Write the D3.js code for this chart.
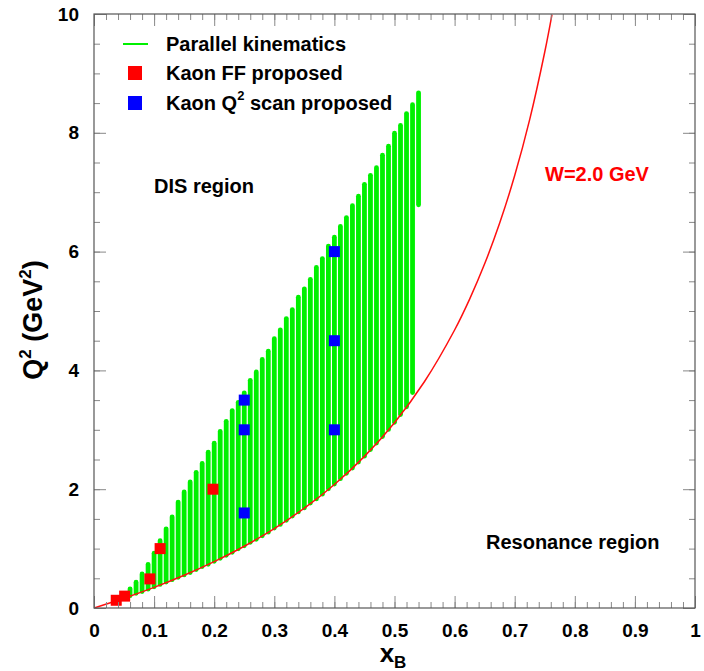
<!DOCTYPE html>
<html>
  <head>
    <meta charset="utf-8">
    <title>Kaon kinematics</title>
    <script src="https://cdn.jsdelivr.net/npm/d3@7"></script>
    <style>
      body { margin: 0; background: #fff; }
      svg text { font-family: "Liberation Sans", Arial, Helvetica, sans-serif; font-weight: bold; }
    </style>
  </head>

  <body>
    <svg id="chart" width="704" height="671"></svg>

    <script>
      // parallel kinematics columns: xB, top Q2, bottom Q2
      const colX = [0.06, 0.07, 0.08, 0.09, 0.10, 0.11, 0.12, 0.13, 0.14, 0.15, 0.16, 0.17, 0.18,
        0.19, 0.20, 0.21, 0.22, 0.23, 0.24, 0.25, 0.26, 0.27, 0.28, 0.29, 0.30, 0.31, 0.32,
        0.33, 0.34, 0.35, 0.36, 0.37, 0.38, 0.39, 0.40, 0.41, 0.42, 0.43, 0.44, 0.45, 0.46,
        0.47, 0.48, 0.49, 0.50, 0.51, 0.52, 0.53, 0.54];
      const colTop = [0.33, 0.44, 0.58, 0.74, 0.93, 1.14, 1.34, 1.54, 1.79, 1.96, 2.13, 2.29, 2.44,
        2.63, 2.78, 2.98, 3.15, 3.33, 3.47, 3.63, 3.84, 3.98, 4.19, 4.33, 4.54, 4.69, 4.88,
        5.03, 5.24, 5.38, 5.54, 5.74, 5.89, 6.10, 6.25, 6.43, 6.58, 6.78, 6.94, 7.14, 7.29,
        7.42, 7.63, 7.78, 8.00, 8.13, 8.33, 8.48, 8.68];
      const colBottom = [0.20, 0.24, 0.27, 0.31, 0.35, 0.39, 0.43, 0.47, 0.51, 0.55, 0.59, 0.64, 0.69,
        0.73, 0.78, 0.83, 0.88, 0.93, 0.99, 1.04, 1.10, 1.15, 1.21, 1.27, 1.34, 1.40, 1.47,
        1.54, 1.61, 1.68, 1.76, 1.83, 1.91, 2.00, 2.08, 2.17, 2.26, 2.35, 2.45, 2.55, 2.66,
        2.77, 2.88, 3.00, 3.12, 3.25, 3.38, 3.62, 6.78];

      // proposed points
      const ffX = [0.037, 0.051, 0.093, 0.11, 0.198];
      const ffQ2 = [0.13, 0.20, 0.49, 1.0, 2.0];
      const scanX = [0.25, 0.25, 0.25, 0.40, 0.40, 0.40];
      const scanQ2 = [1.6, 3.0, 3.5, 3.0, 4.5, 6.0];

      // W = 2.0 GeV line
      const wX = [0, 0.05, 0.10, 0.15, 0.20, 0.25, 0.30, 0.35, 0.40, 0.45, 0.50, 0.55, 0.60,
        0.625, 0.65, 0.675, 0.70, 0.725, 0.75, 0.762];
      const wQ2 = [0, 0.164, 0.347, 0.551, 0.78, 1.04, 1.337, 1.68, 2.08, 2.553, 3.12, 3.813, 4.68,
        5.2, 5.794, 6.48, 7.28, 8.225, 9.36, 9.99];

      // axis ticks
      const xMajor = [0, 0.1, 0.2, 0.3, 0.4, 0.5, 0.6, 0.7, 0.8, 0.9, 1];
      const xLabels = ["0", "0.1", "0.2", "0.3", "0.4", "0.5", "0.6", "0.7", "0.8", "0.9", "1"];
      const yMajor = [0, 2, 4, 6, 8, 10];
      const yLabels = ["0", "2", "4", "6", "8", "10"];

      const svg = d3.select("#chart");
      const mLeft = 94, mRight = 695, mTop = 14, mBottom = 608;

      const x = d3.scaleLinear().domain([0, 1]).range([mLeft, mRight]);
      const y = d3.scaleLinear().domain([0, 10]).range([mBottom, mTop]);

      svg.append("clipPath").attr("id", "clip")
        .append("rect")
          .attr("x", mLeft).attr("y", mTop)
          .attr("width", mRight - mLeft).attr("height", mBottom - mTop);

      const plot = svg.append("g").attr("clip-path", "url(#clip)");

      // green columns
      plot.selectAll(".col")
        .data(colX)
      .enter().append("rect")
        .classed("col", true)
        .attr("x", function(d) { return x(d) - 2.4; })
        .attr("width", 4.8)
        .attr("y", function(d, i) { return y(colTop[i]) - 2; })
        .attr("height", function(d, i) { return y(colBottom[i]) - y(colTop[i]) + 4; })
        .attr("rx", 2.4)
        .attr("fill", "#00f000");

      // W=2 curve
      const line = d3.line()
        .x(function(d, i) { return x(wX[i]); })
        .y(function(d, i) { return y(wQ2[i]); })
        .curve(d3.curveCatmullRom);
      plot.append("path")
        .datum(wX)
        .attr("d", line)
        .attr("fill", "none")
        .attr("stroke", "#ff1010")
        .attr("stroke-width", 1.5);

      // squares
      const sq = 11;
      plot.selectAll(".ff")
        .data(ffX)
      .enter().append("rect")
        .attr("x", function(d) { return x(d) - sq / 2; })
        .attr("y", function(d, i) { return y(ffQ2[i]) - sq / 2; })
        .attr("width", sq).attr("height", sq)
        .attr("fill", "#ff0000");
      plot.selectAll(".scan")
        .data(scanX)
      .enter().append("rect")
        .attr("x", function(d) { return x(d) - sq / 2; })
        .attr("y", function(d, i) { return y(scanQ2[i]) - sq / 2; })
        .attr("width", sq).attr("height", sq)
        .attr("fill", "#0000ff");

      // axes (ticks inward on all four sides)
      function tickStyle(g) {
        g.select(".domain").remove();
        g.selectAll("line").attr("stroke", "#888");
        g.selectAll("text").attr("font-size", 19).attr("fill", "#000");
      }
      const xMinor = d3.range(0, 1.0001, 0.02);
      const yMinor = d3.range(0, 10.0001, 0.5);

      svg.append("g").attr("transform", "translate(0," + mBottom + ")")
        .call(d3.axisBottom(x).tickValues(xMinor).tickSize(-6).tickFormat(""))
        .call(tickStyle);
      svg.append("g").attr("transform", "translate(0," + mBottom + ")")
        .call(d3.axisBottom(x).tickValues(xMajor).tickSize(-12).tickSizeOuter(0).tickPadding(16)
          .tickFormat(function(d, i) { return xLabels[i]; }))
        .call(tickStyle);
      svg.append("g").attr("transform", "translate(0," + mTop + ")")
        .call(d3.axisTop(x).tickValues(xMinor).tickSize(-6).tickFormat(""))
        .call(tickStyle);
      svg.append("g").attr("transform", "translate(0," + mTop + ")")
        .call(d3.axisTop(x).tickValues(xMajor).tickSize(-12).tickFormat(""))
        .call(tickStyle);

      svg.append("g").attr("transform", "translate(" + mLeft + ",0)")
        .call(d3.axisLeft(y).tickValues(yMinor).tickSize(-6).tickFormat(""))
        .call(tickStyle);
      svg.append("g").attr("transform", "translate(" + mLeft + ",0)")
        .call(d3.axisLeft(y).tickValues(yMajor).tickSize(-12).tickPadding(15)
          .tickFormat(function(d, i) { return yLabels[i]; }))
        .call(tickStyle);
      svg.append("g").attr("transform", "translate(" + mRight + ",0)")
        .call(d3.axisRight(y).tickValues(yMinor).tickSize(-6).tickFormat(""))
        .call(tickStyle);
      svg.append("g").attr("transform", "translate(" + mRight + ",0)")
        .call(d3.axisRight(y).tickValues(yMajor).tickSize(-12).tickFormat(""))
        .call(tickStyle);

      // frame
      svg.append("rect")
        .attr("x", mLeft).attr("y", mTop)
        .attr("width", mRight - mLeft).attr("height", mBottom - mTop)
        .attr("fill", "none")
        .attr("stroke", "#555")
        .attr("stroke-width", 1.2);

      // axis titles
      const xt = svg.append("text")
        .attr("x", 393).attr("y", 662)
        .attr("text-anchor", "middle")
        .attr("font-size", 26);
      xt.append("tspan").text("x");
      xt.append("tspan").attr("font-size", 17).attr("dy", 6).text("B");

      const yt = svg.append("text")
        .attr("transform", "translate(42,320) rotate(-90)")
        .attr("text-anchor", "middle")
        .attr("font-size", 27);
      yt.append("tspan").text("Q");
      yt.append("tspan").attr("font-size", 17).attr("dy", -11).text("2");
      yt.append("tspan").attr("dy", 11).text(" (GeV");
      yt.append("tspan").attr("font-size", 17).attr("dy", -11).text("2");
      yt.append("tspan").attr("dy", 11).text(")");

      // legend
      const legend = svg.append("g");
      legend.append("line")
        .attr("x1", 123).attr("x2", 148).attr("y1", 44).attr("y2", 44)
        .attr("stroke", "#00f000").attr("stroke-width", 2);
      legend.append("rect")
        .attr("x", 128).attr("y", 66).attr("width", 14).attr("height", 14)
        .attr("fill", "#ff0000");
      legend.append("rect")
        .attr("x", 128).attr("y", 96).attr("width", 14).attr("height", 14)
        .attr("fill", "#0000ff");
      legend.append("text").attr("x", 166).attr("y", 51).attr("font-size", 20)
        .text("Parallel kinematics");
      legend.append("text").attr("x", 166).attr("y", 80).attr("font-size", 20)
        .text("Kaon FF proposed");
      const lt = legend.append("text").attr("x", 166).attr("y", 110).attr("font-size", 20);
      lt.append("tspan").text("Kaon Q");
      lt.append("tspan").attr("font-size", 13).attr("dy", -10).text("2");
      lt.append("tspan").attr("dy", 10).text(" scan proposed");

      // region labels
      svg.append("text").attr("x", 154).attr("y", 193).attr("font-size", 20)
        .text("DIS region");
      svg.append("text").attr("x", 545).attr("y", 181).attr("font-size", 20)
        .attr("fill", "#ff0000")
        .text("W=2.0 GeV");
      svg.append("text").attr("x", 486).attr("y", 549).attr("font-size", 20)
        .text("Resonance region");
    </script>
  </body>
</html>
